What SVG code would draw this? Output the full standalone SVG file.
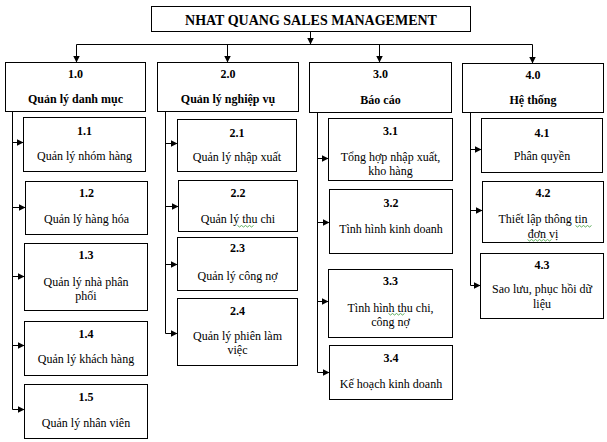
<svg xmlns="http://www.w3.org/2000/svg" width="607" height="442" viewBox="0 0 607 442">
<defs>
<marker id="ah" markerWidth="7" markerHeight="7" refX="7" refY="3.5" orient="auto" markerUnits="userSpaceOnUse"><path d="M0,0 L7,3.5 L0,7 z" fill="#000"/></marker>
<style>
rect{fill:#fff;stroke:#000;stroke-width:1}
text{font-family:"Liberation Serif","Times New Roman",serif;font-size:12px;fill:#000;text-anchor:middle}
.b{font-weight:bold}
.t{font-size:14px;font-weight:bold}
.c path{fill:none;stroke:#000;stroke-width:1}
.sq{fill:none;stroke:#3a9a3a;stroke-width:0.8}
</style>
</defs>
<rect x="0" y="0" width="607" height="442" style="stroke:none"/>
<g transform="translate(0.5,0.5)">
<g id="title"><rect x="151" y="6" width="319" height="25"/><text class="t" x="310.5" y="24">NHAT QUANG SALES MANAGEMENT</text></g>

<g id="n1"><rect x="5" y="62" width="140" height="49"/><text class="b" x="75" y="77">1.0</text><text class="b" x="75" y="102">Quản lý danh mục</text></g>
<g id="n2"><rect x="157" y="62" width="141" height="49"/><text class="b" x="227.5" y="77">2.0</text><text class="b" x="227.5" y="102">Quản lý nghiệp vụ</text></g>
<g id="n3"><rect x="309" y="62" width="142" height="50"/><text class="b" x="380" y="77">3.0</text><text class="b" x="380" y="103">Báo cáo</text></g>
<g id="n4"><rect x="462" y="63" width="141" height="49"/><text class="b" x="532.5" y="78">4.0</text><text class="b" x="532.5" y="103">Hệ thống</text></g>

<g id="n1_1"><rect x="23" y="117" width="122" height="54"/><text class="b" x="84" y="134">1.1</text><text x="84" y="159">Quản lý nhóm hàng</text></g>
<g id="n1_2"><rect x="25" y="181" width="122" height="53"/><text class="b" x="86" y="196">1.2</text><text x="86" y="222">Quản lý hàng hóa</text></g>
<g id="n1_3"><rect x="24" y="243" width="123" height="67"/><text class="b" x="85.5" y="258">1.3</text><text x="85.5" y="285">Quản lý nhà phân</text><text x="85.5" y="299">phối</text></g>
<g id="n1_4"><rect x="24" y="321" width="123" height="54"/><text class="b" x="85.5" y="337">1.4</text><text x="85.5" y="362">Quản lý khách hàng</text></g>
<g id="n1_5"><rect x="24" y="384" width="123" height="54"/><text class="b" x="85.5" y="400">1.5</text><text x="85.5" y="426">Quản lý nhân viên</text></g>

<g id="n2_1"><rect x="177" y="119" width="119" height="52"/><text class="b" x="236.5" y="136">2.1</text><text x="236.5" y="160">Quản lý nhập xuất</text></g>
<g id="n2_2"><rect x="178" y="180" width="119" height="51"/><text class="b" x="237.5" y="196">2.2</text><text x="237.5" y="222">Quản lý thu chi</text><path class="sq" d="M237,225 l2,1.5 l2,-1.5 l2,1.5 l2,-1.5 l2,1.5 l2,-1.5 l2,1.5 l2,-1.5"/></g>
<g id="n2_3"><rect x="177" y="237" width="120" height="53"/><text class="b" x="237" y="251">2.3</text><text x="237" y="279">Quản lý công nợ</text></g>
<g id="n2_4"><rect x="177" y="298" width="120" height="67"/><text class="b" x="237" y="314">2.4</text><text x="237" y="339">Quản lý phiên làm</text><text x="237" y="353">việc</text></g>

<g id="n3_1"><rect x="328" y="118" width="124" height="62"/><text class="b" x="390" y="134">3.1</text><text x="390" y="160">Tổng hợp nhập xuất,</text><text x="390" y="174">kho hàng</text></g>
<g id="n3_2"><rect x="329" y="189" width="123" height="64"/><text class="b" x="390.5" y="206">3.2</text><text x="390.5" y="232">Tình hình kinh doanh</text></g>
<g id="n3_3"><rect x="328" y="269" width="124" height="68"/><text class="b" x="390" y="284">3.3</text><text x="390" y="311">Tình hình thu chi,</text><text x="390" y="325">công nợ</text><path class="sq" d="M388,313 l2,1.5 l2,-1.5 l2,1.5 l2,-1.5 l2,1.5 l2,-1.5 l2,1.5 l2,-1.5"/></g>
<g id="n3_4"><rect x="329" y="345" width="123" height="54"/><text class="b" x="390.5" y="361">3.4</text><text x="390.5" y="387">Kế hoạch kinh doanh</text></g>

<g id="n4_1"><rect x="481" y="118" width="121" height="54"/><text class="b" x="541.5" y="136">4.1</text><text x="541.5" y="159">Phân quyền</text></g>
<g id="n4_2"><rect x="482" y="181" width="121" height="61"/><text class="b" x="542.5" y="196">4.2</text><text x="542.5" y="222">Thiết lập thông tin</text><text x="542.5" y="237">đơn vị</text><path class="sq" d="M575,225 l2,1.5 l2,-1.5 l2,1.5 l2,-1.5 l2,1.5 l2,-1.5 l2,1.5 l2,-1.5"/><path class="sq" d="M527,239 l2,1.5 l2,-1.5 l2,1.5 l2,-1.5 l2,1.5 l2,-1.5 l2,1.5 l2,-1.5 l2,1.5 l2,-1.5 l2,1.5 l2,-1.5"/></g>
<g id="n4_3"><rect x="480" y="253" width="123" height="65"/><text class="b" x="541.5" y="268">4.3</text><text x="541.5" y="292">Sao lưu, phục hồi dữ</text><text x="541.5" y="307">liệu</text></g>

<g id="connectors" class="c">
<path d="M310,31 V44" marker-end="url(#ah)"/>
<path d="M76,44 H532"/>
<path d="M76,44 V62" marker-end="url(#ah)"/>
<path d="M227,44 V62" marker-end="url(#ah)"/>
<path d="M379,44 V62" marker-end="url(#ah)"/>
<path d="M532,44 V63" marker-end="url(#ah)"/>

<path d="M12,111 V409"/>
<path d="M12,142 H23" marker-end="url(#ah)"/>
<path d="M12,207 H25" marker-end="url(#ah)"/>
<path d="M12,276 H24" marker-end="url(#ah)"/>
<path d="M12,345 H24" marker-end="url(#ah)"/>
<path d="M12,409 H24" marker-end="url(#ah)"/>

<path d="M165,111 V333"/>
<path d="M165,143 H177" marker-end="url(#ah)"/>
<path d="M165,206 H178" marker-end="url(#ah)"/>
<path d="M165,264 H177" marker-end="url(#ah)"/>
<path d="M165,333 H177" marker-end="url(#ah)"/>

<path d="M317,112 V372"/>
<path d="M317,158 H328" marker-end="url(#ah)"/>
<path d="M317,222 H329" marker-end="url(#ah)"/>
<path d="M317,301 H328" marker-end="url(#ah)"/>
<path d="M317,372 H329" marker-end="url(#ah)"/>

<path d="M470,112 V285"/>
<path d="M470,149 H481" marker-end="url(#ah)"/>
<path d="M470,210 H482" marker-end="url(#ah)"/>
<path d="M470,285 H480" marker-end="url(#ah)"/>
</g>
</g>
</svg>
